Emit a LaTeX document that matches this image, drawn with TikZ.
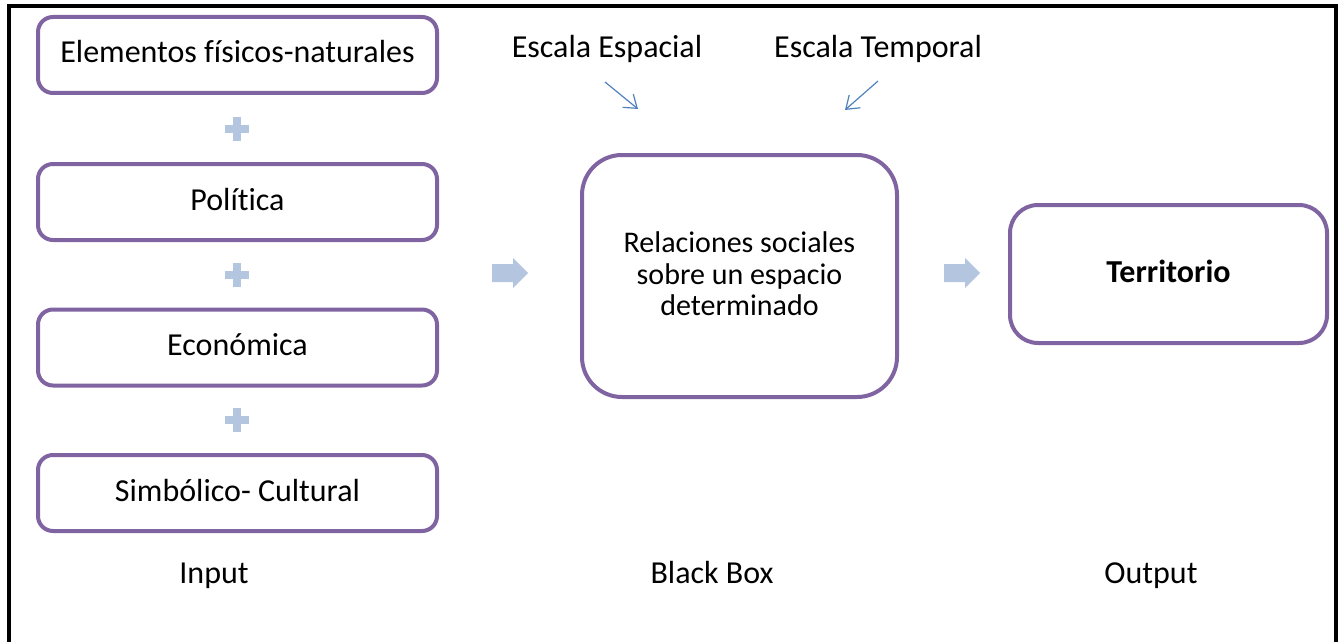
\documentclass[tikz,border=0pt]{standalone}
\usepackage{fontspec}
\setmainfont{Carlito}[Ligatures=NoCommon]
\usetikzlibrary{arrows.meta}
\definecolor{boxpurple}{RGB}{128,100,162}
\definecolor{lightblue}{RGB}{180,197,223}
\definecolor{thinblue}{RGB}{79,129,189}
\begin{document}
\begin{tikzpicture}[x=1pt,y=-1pt,
  txt/.style={font=\fontsize{32}{38}\selectfont, text=black, text height=22pt, text depth=6pt, inner sep=0pt},
  inbox/.style={txt, draw=boxpurple, line width=4pt, rounded corners=15pt, fill=white,
    minimum width=399pt, minimum height=76pt},
  bigbox/.style={draw=boxpurple, line width=4pt, rounded corners=40pt, fill=white,
    minimum width=315pt, minimum height=242pt, inner sep=0pt, align=center,
    font=\fontsize{30}{31.5}\selectfont, text=black},
  outbox/.style={txt, draw=boxpurple, line width=4pt, rounded corners=28pt, fill=white,
    minimum width=317pt, minimum height=138pt, font=\fontsize{32}{38}\selectfont\bfseries},
  thinarrow/.style={draw=thinblue, line width=1.2pt, -{Straight Barb[length=12pt,width=17pt,line width=1.2pt]}},
  plussign/.pic={\fill[lightblue] (-12,-4) rectangle (12,4); \fill[lightblue] (-4,-12) rectangle (4,12);},
  blockarrow/.pic={\fill[lightblue] (-18,-9) -- (3,-9) -- (3,-15) -- (18,0) -- (3,15) -- (3,9) -- (-18,9) -- cycle;}
]
\useasboundingbox (0,0) rectangle (1342,642);
% frame
\draw[line width=3.5pt] (9,642) -- (9,6) -- (1336,6) -- (1336,642);

% input column
\node[inbox] (b1) at (237.5,55) {Elementos físicos-naturales};
\node[inbox] (b2) at (237.5,202) {Política};
\node[inbox] (b3) at (237.5,347.5) {Económica};
\node[inbox] (b4) at (237.5,493) {Simbólico- Cultural};
\pic at (236.5,129) {plussign};
\pic at (236.5,275) {plussign};
\pic at (236.5,420) {plussign};

% block arrows
\pic at (510,273) {blockarrow};
\pic at (962,273) {blockarrow};

% black box
\node[bigbox] (bb) at (739.5,276) {Relaciones sociales\\sobre un espacio\\determinado\rule[-4pt]{0pt}{0pt}};

% output
\node[outbox] (out) at (1168.5,274) {Territorio};

% scales
\node[txt] (esp) at (607,50) {Escala Espacial};
\node[txt] (tmp) at (878,50) {Escala Temporal};
\coordinate (e1) at (605,82);
\coordinate (e2) at (638,109);
\coordinate (t1) at (878,81);
\coordinate (t2) at (845,110);
\draw[thinarrow] (e1) -- (e2);
\draw[thinarrow] (t1) -- (t2);

% bottom labels
\node[txt] (lin) at (214,575) {Input};
\node[txt] (lbb) at (712,575) {Black Box};
\node[txt] (lout) at (1151,575) {Output};
\end{tikzpicture}
\end{document}
